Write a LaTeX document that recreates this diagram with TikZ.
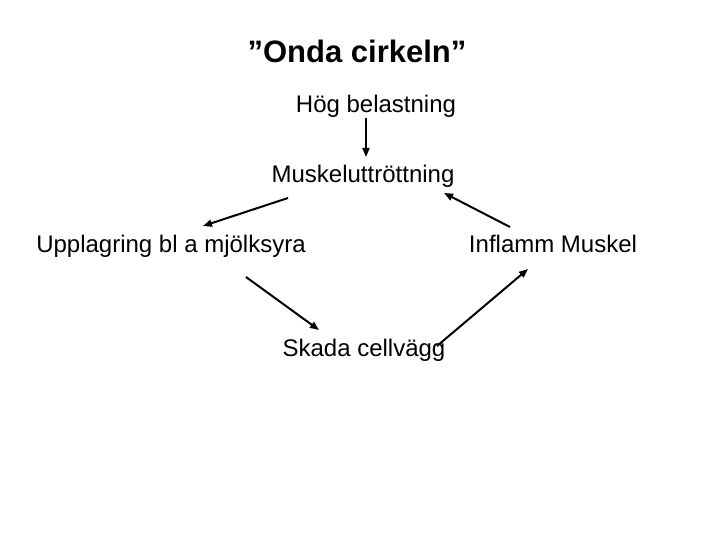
\documentclass[tikz,border=0pt]{standalone}
\usepackage{fontspec}
\setmainfont{Liberation Sans}
\usetikzlibrary{arrows.meta}
\tikzset{
  lbl/.style={inner sep=0pt, anchor=base, font=\fontsize{24}{28}\selectfont},
  ttl/.style={inner sep=0pt, anchor=base, font=\fontsize{31}{36}\selectfont\bfseries},
  conn/.style={line width=2pt, -{Triangle[length=9pt,width=7pt]}}
}
\begin{document}
\begin{tikzpicture}[x=1pt,y=-1pt]
\useasboundingbox (0,0) rectangle (720,540);
\node[ttl] (title) at (357,63) {”Onda cirkeln”};
\node[lbl] (hog) at (376,113) {Hög belastning};
\node[lbl] (musk) at (363,183) {Muskeluttröttning};
\node[lbl] (uppl) at (171,252) {Upplagring bl a mjölksyra};
\node[lbl] (infl) at (553,252) {Inflamm Muskel};
\node[lbl] (skada) at (364,356) {Skada cellvägg};
\coordinate (a1s) at (366,118);
\coordinate (a1e) at (366,157);
\coordinate (a2s) at (288,198);
\coordinate (a2e) at (203,226);
\coordinate (a3s) at (246,277);
\coordinate (a3e) at (319,330);
\coordinate (a4s) at (437,346);
\coordinate (a4e) at (528,269);
\coordinate (a5s) at (510,227);
\coordinate (a5e) at (444,193);
\draw[conn] (a1s) -- (a1e);
\draw[conn] (a2s) -- (a2e);
\draw[conn] (a3s) -- (a3e);
\draw[conn] (a4s) -- (a4e);
\draw[conn] (a5s) -- (a5e);
\end{tikzpicture}
\end{document}
